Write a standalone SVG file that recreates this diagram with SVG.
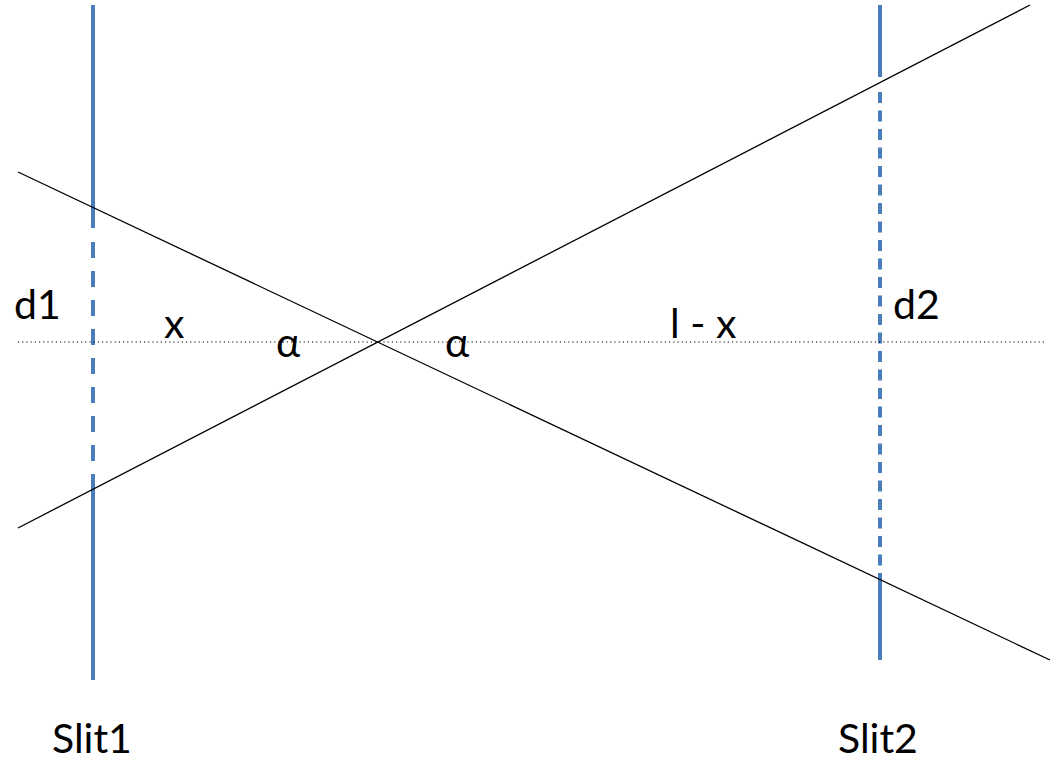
<svg xmlns="http://www.w3.org/2000/svg" width="1051" height="773" viewBox="0 0 1051 773">
<style>
.slit{stroke:#4A7EBB;stroke-width:4;fill:none}
.ray{stroke:#000;stroke-width:1.3;fill:none}
.axis{stroke:#000;stroke-width:1.2;stroke-dasharray:1.2 3;fill:none}
text{font-family:Lato,"Open Sans","Liberation Sans",sans-serif;font-size:41px;fill:#000}
</style>
<rect width="1051" height="773" fill="#fff"/>
<g id="slit1">
<line class="slit" x1="93" y1="5" x2="93" y2="228"/>
<line class="slit" x1="93" y1="242" x2="93" y2="475" stroke-dasharray="16 13"/>
<line class="slit" x1="93" y1="475" x2="93" y2="680"/>
</g>
<g id="slit2">
<line class="slit" x1="880" y1="5" x2="880" y2="77"/>
<line class="slit" x1="880" y1="92" x2="880" y2="578" stroke-dasharray="11 7.5"/>
<line class="slit" x1="880" y1="578" x2="880" y2="660"/>
</g>
<g id="connectors">
<line class="axis" x1="18" y1="342" x2="1047" y2="342"/>
<line class="ray" x1="18" y1="172" x2="1050" y2="660"/>
<line class="ray" x1="18" y1="528" x2="1030" y2="5"/>
</g>
<g id="labels">
<text x="14" y="319">d1</text>
<text x="164" y="338">x</text>
<text x="276" y="357">α</text>
<text x="445" y="357">α</text>
<text x="670" y="338">l - x</text>
<text x="893" y="319">d2</text>
<text x="52" y="753">Slit1</text>
<text x="838" y="753">Slit2</text>
</g>
</svg>
